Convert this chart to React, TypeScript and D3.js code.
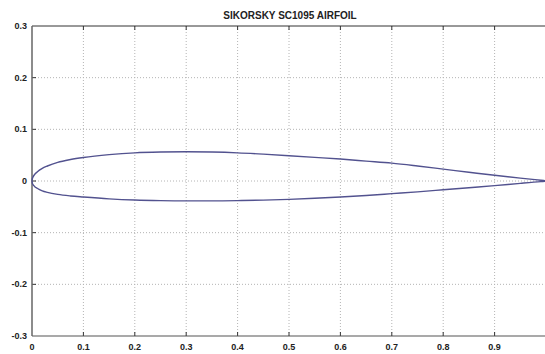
import React from "react";
import * as d3 from "d3";

const title = "SIKORSKY SC1095 AIRFOIL";
const xTicks = [0, 0.1, 0.2, 0.3, 0.4, 0.5, 0.6, 0.7, 0.8, 0.9];
const yTicks = [-0.3, -0.2, -0.1, 0, 0.1, 0.2, 0.3];
const xLabels = ["0", "0.1", "0.2", "0.3", "0.4", "0.5", "0.6", "0.7", "0.8", "0.9"];
const yLabels = ["-0.3", "-0.2", "-0.1", "0", "0.1", "0.2", "0.3"];

const stationX = [0, 0.0005, 0.002, 0.005, 0.01, 0.02, 0.03, 0.05, 0.075, 0.1, 0.15, 0.2, 0.25, 0.3, 0.35, 0.4, 0.45, 0.5, 0.55, 0.6, 0.65, 0.7, 0.75, 0.8, 0.85, 0.9, 0.95, 0.99, 1.0];
const upperY = [0, 0.004, 0.008, 0.0125, 0.0175, 0.0245, 0.029, 0.036, 0.0415, 0.0455, 0.051, 0.0545, 0.056, 0.0565, 0.056, 0.0545, 0.052, 0.049, 0.0458, 0.0425, 0.0385, 0.0345, 0.029, 0.023, 0.017, 0.011, 0.0055, 0.0015, 0.0005];
const lowerY = [0, -0.0035, -0.007, -0.0105, -0.014, -0.019, -0.022, -0.026, -0.029, -0.031, -0.0345, -0.0368, -0.038, -0.0385, -0.0385, -0.038, -0.037, -0.0355, -0.0335, -0.031, -0.028, -0.0245, -0.021, -0.017, -0.013, -0.009, -0.0045, -0.0012, -0.0005];

const W = 545, H = 354;
const L = 32, R = 546, T = 26, B = 336;

export default function App() {
  const x = d3.scaleLinear().domain([0, 1]).range([L, R]);
  const y = d3.scaleLinear().domain([-0.3, 0.3]).range([B, T]);
  const upper = stationX.map((v, i) => [v, upperY[i]] as [number, number]);
  const lower = stationX.map((v, i) => [v, lowerY[i]] as [number, number]);
  const line = d3.line<[number, number]>().x(d => x(d[0])).y(d => y(d[1])).curve(d3.curveMonotoneX);
  const font = "'Liberation Sans', Arial, sans-serif";
  return (
    <svg width={W} height={H} style={{ position: "absolute", left: 0, top: 0, background: "#fff" }}>
      <rect x={0} y={0} width={W} height={H} fill="#fff" />
      {/* grid */}
      {xTicks.slice(1).map(t => (
        <line key={"gx" + t} x1={x(t)} x2={x(t)} y1={T} y2={B} stroke="#b4b4b4" strokeWidth={1} strokeDasharray="1,2" />
      ))}
      {yTicks.slice(1, -1).map(t => (
        <line key={"gy" + t} x1={L} x2={W} y1={y(t)} y2={y(t)} stroke="#b4b4b4" strokeWidth={1} strokeDasharray="1,2" />
      ))}
      {/* tick marks */}
      {xTicks.slice(1).map(t => (
        <g key={"tx" + t}>
          <line x1={x(t)} x2={x(t)} y1={B} y2={B - 4} stroke="#333" />
          <line x1={x(t)} x2={x(t)} y1={T} y2={T + 4} stroke="#333" />
        </g>
      ))}
      {yTicks.slice(1, -1).map(t => (
        <line key={"ty" + t} x1={L} x2={L + 4} y1={y(t)} y2={y(t)} stroke="#333" />
      ))}
      {/* frame */}
      <line x1={L} x2={W} y1={T} y2={T} stroke="#333" strokeWidth={1} />
      <line x1={L} x2={W} y1={B} y2={B} stroke="#555" strokeWidth={1.2} />
      <line x1={L} x2={L} y1={T} y2={B} stroke="#666" strokeWidth={1.5} />
      {/* airfoil */}
      <path d={line(upper) || ""} fill="none" stroke="#52528f" strokeWidth={1.4} />
      <path d={line(lower) || ""} fill="none" stroke="#52528f" strokeWidth={1.4} />
      {/* labels */}
      {yTicks.map((t, i) => (
        <text key={"ly" + t} x={L - 5} y={y(t)} dy="0.35em" textAnchor="end" fontFamily={font} fontWeight="bold" fontSize={9} fill="#222">{yLabels[i]}</text>
      ))}
      {xTicks.map((t, i) => (
        <text key={"lx" + t} x={x(t)} y={B + 14} textAnchor="middle" fontFamily={font} fontWeight="bold" fontSize={9} fill="#222">{xLabels[i]}</text>
      ))}
      <text x={290} y={19} textAnchor="middle" fontFamily={font} fontWeight="bold" fontSize={10} fill="#222">{title}</text>
    </svg>
  );
}
